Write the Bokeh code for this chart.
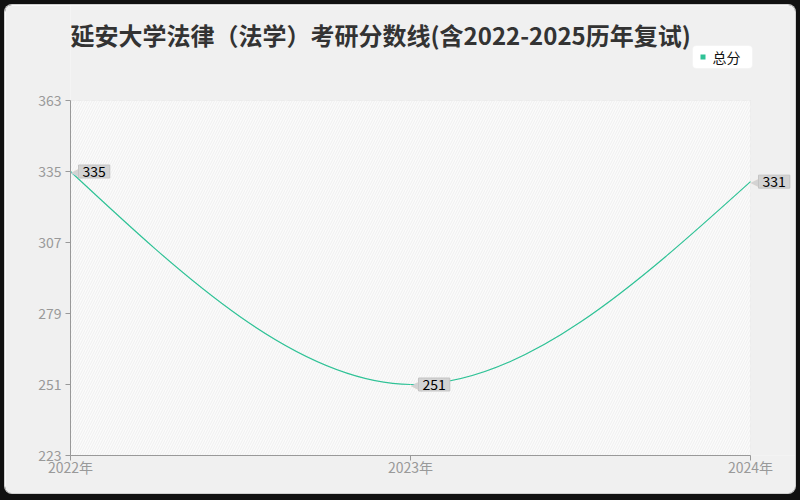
import numpy as np

from bokeh.core.properties import value
from bokeh.embed import file_html
from bokeh.models import (BoxAnnotation, ColumnDataSource, FixedTicker, Label,
                          Range1d)
from bokeh.plotting import figure
from bokeh.resources import INLINE

# chart data
years = [2022, 2023, 2024]
year_labels = ['2022年', '2023年', '2024年']
scores = [335, 251, 331]
y_ticks = [223, 251, 279, 307, 335, 363]
series_name = '总分'
title_text = '延安大学法律（法学）考研分数线(含2022-2025历年复试)'

FONT = 'Noto Sans CJK SC'
LINE_COLOR = '#2fc296'
GRID_COLOR = '#e2e2e2'
AXIS_COLOR = '#999999'

# layout in pixels (the frame covers the whole panel, the plot area sits inside)
W, H = 790, 488
LEFT, BOTTOM = 65, 38
AREA_W, AREA_H, AREA_TOP = 680, 355, 95
FRAME_W, FRAME_H = W - LEFT, H - BOTTOM


def natural_spline_beziers(xs, ys):
    # natural cubic spline through the points, written as bezier segments
    xs = np.asarray(xs, dtype=float)
    ys = np.asarray(ys, dtype=float)
    n = len(xs)
    h = np.diff(xs)
    A = np.zeros((n, n))
    b = np.zeros(n)
    A[0, 0] = A[-1, -1] = 1.0
    for i in range(1, n - 1):
        A[i, i - 1] = h[i - 1]
        A[i, i] = 2 * (h[i - 1] + h[i])
        A[i, i + 1] = h[i]
        b[i] = 6 * ((ys[i + 1] - ys[i]) / h[i] - (ys[i] - ys[i - 1]) / h[i - 1])
    m = np.linalg.solve(A, b)
    data = {k: [] for k in ('x0', 'y0', 'x1', 'y1', 'cx0', 'cy0', 'cx1', 'cy1')}
    for i in range(n - 1):
        sec = (ys[i + 1] - ys[i]) / h[i]
        d0 = sec - h[i] * (2 * m[i] + m[i + 1]) / 6
        d1 = sec + h[i] * (m[i] + 2 * m[i + 1]) / 6
        data['x0'].append(xs[i])
        data['y0'].append(ys[i])
        data['x1'].append(xs[i + 1])
        data['y1'].append(ys[i + 1])
        data['cx0'].append(xs[i] + h[i] / 3)
        data['cy0'].append(ys[i] + d0 * h[i] / 3)
        data['cx1'].append(xs[i + 1] - h[i] / 3)
        data['cy1'].append(ys[i + 1] - d1 * h[i] / 3)
    return data


x_per_px = (years[-1] - years[0]) / AREA_W
y_per_px = (y_ticks[-1] - y_ticks[0]) / AREA_H
x_end = years[0] + FRAME_W * x_per_px
y_end = y_ticks[-1] + AREA_TOP * y_per_px

p = figure(width=W, height=H, output_backend='svg', toolbar_location=None,
           x_range=Range1d(years[0], x_end),
           y_range=Range1d(y_ticks[0], y_end),
           frame_width=FRAME_W, frame_height=FRAME_H,
           min_border_left=LEFT, min_border_right=0,
           min_border_top=0, min_border_bottom=BOTTOM)

p.styles = {'margin': '5px 0 0 5px', 'border-radius': '7px',
            'overflow': 'hidden',
            'box-shadow': '0 0 0 1px #d0d0d0, 0 0 0 14px #111111'}
p.border_fill_color = '#f0f0f0'
p.background_fill_color = '#f0f0f0'
p.outline_line_color = None
p.xgrid.visible = False
p.ygrid.visible = False

# plot area with light diagonal stripes
p.add_layout(BoxAnnotation(left=years[0], right=years[-1],
                           bottom=y_ticks[0], top=y_ticks[-1],
                           fill_color='#fbfbfb', fill_alpha=1.0,
                           line_color='#e6e6e6', line_width=1,
                           hatch_pattern='/', hatch_color='#efefef',
                           hatch_scale=5, hatch_weight=1, level='underlay'))

# dashed grid inside the plot area
p.segment(x0=[years[0]] * len(y_ticks), x1=[years[-1]] * len(y_ticks),
          y0=y_ticks, y1=y_ticks, line_color=GRID_COLOR, line_dash='4 3',
          line_width=1, level='underlay')
p.segment(x0=years, x1=years, y0=[y_ticks[0]] * len(years),
          y1=[y_ticks[-1]] * len(years), line_color=GRID_COLOR,
          line_dash='4 3', line_width=1, level='underlay')

# axes
p.xaxis.ticker = FixedTicker(ticks=years)
p.xaxis.major_label_overrides = {y: lbl for y, lbl in zip(years, year_labels)}
p.xaxis.bounds = (years[0], years[-1])
p.yaxis.ticker = FixedTicker(ticks=y_ticks)
p.yaxis.bounds = (y_ticks[0], y_ticks[-1])
for ax in (p.xaxis, p.yaxis):
    ax.axis_line_color = AXIS_COLOR
    ax.major_tick_line_color = AXIS_COLOR
    ax.major_tick_out = 5
    ax.major_tick_in = 0
    ax.minor_tick_line_color = None
    ax.major_label_text_font = FONT
    ax.major_label_text_font_size = '14px'
    ax.major_label_text_color = '#999999'
p.xaxis.major_label_standoff = -4
p.yaxis.major_label_standoff = 4

# smoothed line
src = ColumnDataSource(data=natural_spline_beziers(years, scores))
p.bezier(x0='x0', y0='y0', x1='x1', y1='y1', cx0='cx0', cy0='cy0',
         cx1='cx1', cy1='cy1', source=src, line_color=LINE_COLOR,
         line_width=1.2)

# value labels with a pointer
lab = ColumnDataSource(data={'x': years, 'y': scores,
                             't': [str(s) for s in scores]})
p.text(x='x', y='y', text=value('◀'), source=lab, x_offset=0,
       text_font=value('DejaVu Sans'), text_color='#d3d3d3',
       text_font_size='15px', text_align='left', text_baseline='middle')
p.text(x='x', y='y', text='t', source=lab, x_offset=8,
       text_font=value(FONT), text_font_size='14px', text_color='#000000',
       text_align='left', text_baseline='middle',
       background_fill_color='#d3d3d3', border_line_color='#c4c4c4',
       padding=(4, 1))

# title
p.add_layout(Label(x=0, y=FRAME_H - 29, x_units='screen', y_units='screen',
                   text=title_text, text_font=FONT, text_font_size='24px',
                   text_font_style='bold', text_color='#333333',
                   text_baseline='middle'))

# legend box
p.add_layout(BoxAnnotation(left=622, right=682, top=FRAME_H - 40,
                           bottom=FRAME_H - 63, left_units='screen',
                           right_units='screen', top_units='screen',
                           bottom_units='screen', fill_color='#ffffff',
                           fill_alpha=1.0, line_color='#ebebeb',
                           border_radius=4))
p.add_layout(BoxAnnotation(left=630, right=635, top=FRAME_H - 49,
                           bottom=FRAME_H - 54, left_units='screen',
                           right_units='screen', top_units='screen',
                           bottom_units='screen', fill_color=LINE_COLOR,
                           fill_alpha=1.0, line_color=None))
p.add_layout(Label(x=642, y=FRAME_H - 51, x_units='screen', y_units='screen',
                   text=series_name, text_font=FONT, text_font_size='14px',
                   text_color='#111111', text_baseline='middle'))

open('out.html', 'w').write(file_html(p, INLINE))
